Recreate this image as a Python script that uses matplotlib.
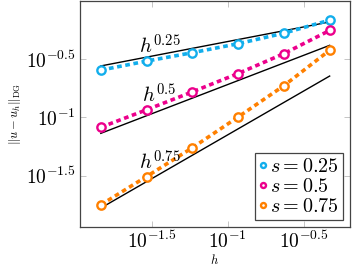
import numpy as np
import matplotlib
matplotlib.use("Agg")
import matplotlib.pyplot as plt

# ------------------ DATA ------------------
h = [0.01466, 0.02932, 0.05864, 0.1173, 0.2346, 0.4690]
err_025 = [0.2535, 0.3027, 0.3573, 0.4266, 0.5248, 0.6776]
err_050 = [0.0822, 0.1161, 0.1652, 0.2371, 0.3508, 0.5534]
err_075 = [0.01786, 0.03119, 0.05495, 0.1007, 0.1866, 0.3750]
series_labels = ["$s = 0.25$", "$s = 0.5$", "$s = 0.75$"]
rates = [0.25, 0.5, 0.75]
rate_consts = [0.791, 0.603, 0.398]
rate_labels = ["$h^{0.25}$", "$h^{0.5}$", "$h^{0.75}$"]
rate_label_pos = [(0.0262, 0.41), (0.0272, 0.157), (0.0262, 0.0415)]

colores = ["#12AEEC", "#EC008C", "#FF8000"]

plt.rcParams["mathtext.fontset"] = "cm"
plt.rcParams["font.family"] = "serif"
plt.rcParams["font.serif"] = ["DejaVu Serif"]

fig = plt.figure(figsize=(3.53, 2.69), dpi=100)
ax = fig.add_axes([79.5 / 353, (269 - 226.7) / 269, (350 - 79.5) / 353, (226.7 - 1) / 269])

hh = np.array(h)
# rectas de referencia
for p, c, lab, pos in zip(rates, rate_consts, rate_labels, rate_label_pos):
    ax.plot(hh, c * hh ** p, color="black", lw=1.0, zorder=2)
    ax.text(pos[0], pos[1], lab, fontsize=15, ha="left", va="center", zorder=4)

for err, col, lab in zip([err_025, err_050, err_075], colores, series_labels):
    ax.plot(h, err, color=col, ls=(0, (1.3, 1.0)), lw=2.6, zorder=3)
    ax.plot(h, err, ls="none", marker="o", ms=6, mfc="white", mec=col, mew=1.7,
            zorder=5, label=lab)

ax.set_xscale("log")
ax.set_yscale("log")
ax.set_xlim(10 ** -1.974, 10 ** -0.195)
ax.set_ylim(10 ** -1.935, 10 ** -0.005)

xt = [10 ** -1.5, 10 ** -1, 10 ** -0.5]
yt = [10 ** -1.5, 10 ** -1, 10 ** -0.5]
ax.set_xticks(xt)
ax.set_xticklabels(["$10^{-1.5}$", "$10^{-1}$", "$10^{-0.5}$"])
ax.set_yticks(yt)
ax.set_yticklabels(["$10^{-1.5}$", "$10^{-1}$", "$10^{-0.5}$"])
ax.minorticks_off()
ax.tick_params(which="both", direction="in", top=True, right=True, length=4,
               width=0.6, color="#bbbbbb", labelsize=14, pad=3)

for sp in ax.spines.values():
    sp.set_color("#444444")
    sp.set_linewidth(0.9)

ax.set_xlabel("$h$", fontsize=9, labelpad=1)
ax.set_ylabel(r"$\|u-u_h\|_{\mathrm{DG}}$", fontsize=9, labelpad=2)

leg = ax.legend(loc="lower right", fontsize=14.5, handlelength=0.4, handletextpad=0.15,
                borderpad=0.2, labelspacing=0.05, fancybox=False, framealpha=1,
                borderaxespad=0.35, markerscale=0.6)
leg.get_frame().set_edgecolor("#444444")
leg.get_frame().set_linewidth(0.9)

fig.savefig("out.png", dpi=100)
